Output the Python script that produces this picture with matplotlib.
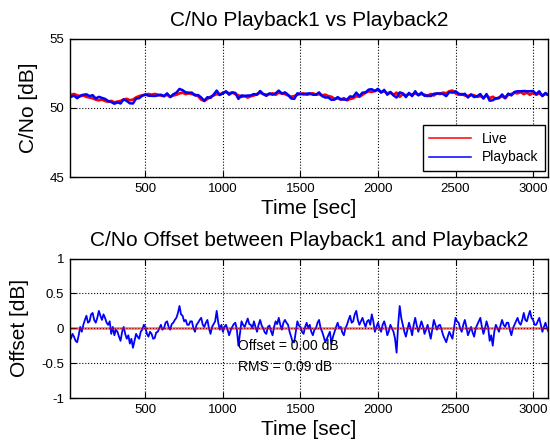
import numpy as np
import matplotlib
matplotlib.use('Agg')
import matplotlib.pyplot as plt

plt.rcParams['font.family'] = ['Liberation Sans', 'DejaVu Sans']

# time axes (sec)
t = np.arange(0, 3101, 20)       # C/No samples
t_off = np.arange(0, 3101, 10)   # offset samples

# live C/No [dB], every 20 s
live = [51.0, 50.95, 51.0, 50.9, 50.85,
        50.9, 50.8, 50.75, 50.7, 50.6,
        50.55, 50.6, 50.5, 50.45, 50.5,
        50.4, 50.45, 50.5, 50.6, 50.65,
        50.55, 50.6, 50.75, 50.85, 50.9,
        50.95, 51.0, 50.95, 51.0, 50.95,
        50.9, 50.85, 50.95, 50.8, 50.9,
        50.95, 51.05, 51.1, 51.0, 51.05,
        51.0, 50.95, 50.85, 50.6, 50.5,
        50.65, 50.8, 50.9, 51.0, 50.95,
        51.1, 51.15, 51.05, 51.1, 51.0,
        50.9, 50.8, 50.85, 50.75, 50.85,
        50.9, 51.0, 51.1, 51.0, 50.95,
        51.0, 51.05, 50.95, 51.1, 51.05,
        51.0, 50.9, 50.8, 50.85, 50.95,
        51.0, 51.05, 50.95, 51.0, 51.05,
        50.95, 51.0, 50.9, 50.95, 50.85,
        50.8, 50.65, 50.7, 50.6, 50.7,
        50.55, 50.65, 50.7, 50.85, 50.8,
        50.95, 51.1, 51.2, 51.15, 51.25,
        51.3, 51.15, 51.2, 51.05, 51.1,
        50.95, 51.1, 50.8, 51.0, 50.9,
        51.0, 50.95, 51.05, 50.95, 51.0,
        50.95, 50.85, 51.0, 50.9, 51.05,
        51.0, 51.1, 51.05, 51.2, 51.25,
        51.05, 50.95, 51.0, 50.9, 50.85,
        50.95, 50.9, 50.8, 50.85, 50.75,
        50.9, 50.7, 50.8, 50.65, 50.75,
        50.85, 50.7, 50.95, 51.0, 51.1,
        51.05, 51.15, 51.0, 51.1, 50.95,
        51.1, 50.95, 51.05, 50.9, 51.0,
        50.95]

# playback minus live [dB], every 10 s
offset = [-0.05, -0.12, -0.15, -0.08, -0.12, -0.18, -0.2, -0.1, 0.02, -0.05,
          0.05, 0.12, 0.18, 0.08, 0.1, 0.2, 0.22, 0.12, 0.08, 0.15,
          0.25, 0.18, 0.12, 0.2, 0.15, 0.08, 0.05, 0.1, -0.08, 0.02,
          -0.1, -0.02, -0.05, -0.12, -0.18, -0.05, 0.02, -0.08, -0.15, -0.1,
          -0.22, -0.15, -0.28, -0.18, -0.08, -0.12, -0.15, -0.05, -0.02, 0.05,
          0.02, -0.08, -0.12, -0.05, -0.08, -0.15, -0.14, -0.06, -0.05, 0.0,
          0.05, -0.02, 0.0, 0.08, 0.1, 0.02, -0.02, 0.06, 0.08, 0.12,
          0.15, 0.22, 0.32, 0.2, 0.18, 0.1, 0.12, 0.05, 0.05, 0.1,
          0.1, 0.0, -0.05, 0.05, 0.08, 0.12, 0.15, 0.05, 0.02, 0.08,
          0.12, 0.0, -0.08, 0.02, 0.06, 0.1, 0.25, 0.08, -0.02, 0.05,
          -0.05, 0.02, 0.05, -0.02, -0.1, -0.03, 0.02, 0.06, 0.08, -0.02,
          -0.25, -0.08, 0.1, 0.05, 0.02, 0.08, 0.14, 0.06, 0.05, 0.0,
          0.1, 0.02, -0.05, 0.05, 0.12, 0.04, 0.0, -0.06, -0.08, 0.02,
          0.04, -0.04, -0.1, 0.02, 0.1, 0.06, 0.15, 0.05, -0.02, 0.08,
          0.12, 0.08, 0.05, -0.05, -0.12, -0.2, -0.2, -0.05, 0.1, 0.04,
          0.02, -0.05, -0.08, 0.02, 0.08, 0.0, 0.05, -0.05, -0.1, -0.02,
          0.0, 0.08, 0.12, 0.0, -0.05, -0.12, -0.2, -0.15, -0.1, -0.05,
          -0.22, -0.12, -0.05, 0.02, 0.08, 0.0, 0.02, -0.06, -0.1, 0.0,
          0.05, 0.12, 0.18, 0.08, 0.1, 0.2, 0.25, 0.12, 0.05, 0.1,
          0.15, 0.08, 0.02, 0.1, 0.12, 0.05, 0.2, 0.1, -0.05, 0.02,
          0.08, 0.0, -0.05, 0.05, 0.1, 0.02, -0.1, -0.04, 0.05, 0.0,
          -0.05, -0.15, -0.35, 0.05, 0.32, 0.15, 0.05, -0.05, -0.12, -0.02,
          0.08, 0.0, -0.1, 0.05, 0.15, 0.04, -0.05, 0.02, 0.1, 0.03,
          -0.08, -0.02, 0.05, -0.05, -0.15, -0.02, 0.12, 0.05, -0.02, 0.04,
          0.05, -0.02, -0.1, -0.15, -0.2, -0.12, -0.05, -0.1, -0.15, 0.0,
          0.15, 0.1, 0.08, 0.0, -0.05, 0.05, 0.12, 0.02, -0.1, -0.04,
          0.02, -0.06, -0.12, 0.0, 0.05, 0.1, 0.15, 0.02, -0.08, 0.0,
          0.1, 0.02, -0.18, -0.1, -0.25, -0.05, 0.05, 0.0, -0.05, 0.04,
          0.12, 0.05, 0.02, 0.08, 0.08, -0.02, -0.1, 0.0, 0.05, 0.1,
          0.15, 0.08, 0.05, 0.12, 0.22, 0.12, 0.1, 0.18, 0.25, 0.15,
          0.12, 0.05, 0.05, 0.1, 0.15, 0.05, -0.05, 0.02, 0.08, 0.0,
          -0.05]

live = np.array(live)
offset = np.array(offset)
playback = live + offset[::2]

xticks = [500, 1000, 1500, 2000, 2500, 3000]

fig = plt.figure(figsize=(5.5, 4.44), dpi=100)
ax1 = fig.add_axes([0.127, 0.601, 0.869, 0.312])
ax2 = fig.add_axes([0.127, 0.1036, 0.869, 0.314])

def style(ax):
    ax.set_xlim(13, 3095)
    ax.set_xticks(xticks)
    ax.grid(True, color='k', linestyle=':', linewidth=0.8)
    ax.tick_params(direction='in', top=True, right=True, length=4,
                   labelsize=9.5, pad=4)
    for s in ax.spines.values():
        s.set_linewidth(1.0)
    ax.set_xlabel('Time [sec]', fontsize=15, labelpad=3)

ax1.plot(t, live, color='r', lw=2, label='Live')
ax1.plot(t, playback, color='b', lw=1.8, label='Playback')
ax1.set_ylim(45, 55)
ax1.set_yticks([45, 50, 55])
style(ax1)
ax1.set_ylabel('C/No [dB]', fontsize=15, labelpad=8)
ax1.set_title('C/No Playback1 vs Playback2', fontsize=15, pad=9)
leg = ax1.legend(loc='lower right', bbox_to_anchor=(0.994, 0.047),
                 borderaxespad=0, fontsize=10, fancybox=False,
                 framealpha=1, edgecolor='k', handlelength=3.0,
                 borderpad=0.45, labelspacing=0.35)
leg.get_frame().set_linewidth(1.0)
for h in leg.get_lines():
    h.set_linewidth(1.1)

ax2.plot(t_off, offset, color='b', lw=1.3)
ax2.plot(t_off, np.zeros_like(t_off), color='r', lw=2, alpha=0.5)
ax2.set_ylim(-1, 1)
ax2.set_yticks([-1, -0.5, 0, 0.5, 1])
ax2.set_yticklabels(['-1', '-0.5', '0', '0.5', '1'])
style(ax2)
ax2.set_ylabel('Offset [dB]', fontsize=15, labelpad=9)
ax2.set_title('C/No Offset between Playback1 and Playback2', fontsize=15, pad=9)
ax2.text(1100, -0.25, 'Offset = 0.00 dB', fontsize=10, va='center')
ax2.text(1100, -0.56, 'RMS = 0.09 dB', fontsize=10, va='center')

fig.savefig('out.png', dpi=100)
